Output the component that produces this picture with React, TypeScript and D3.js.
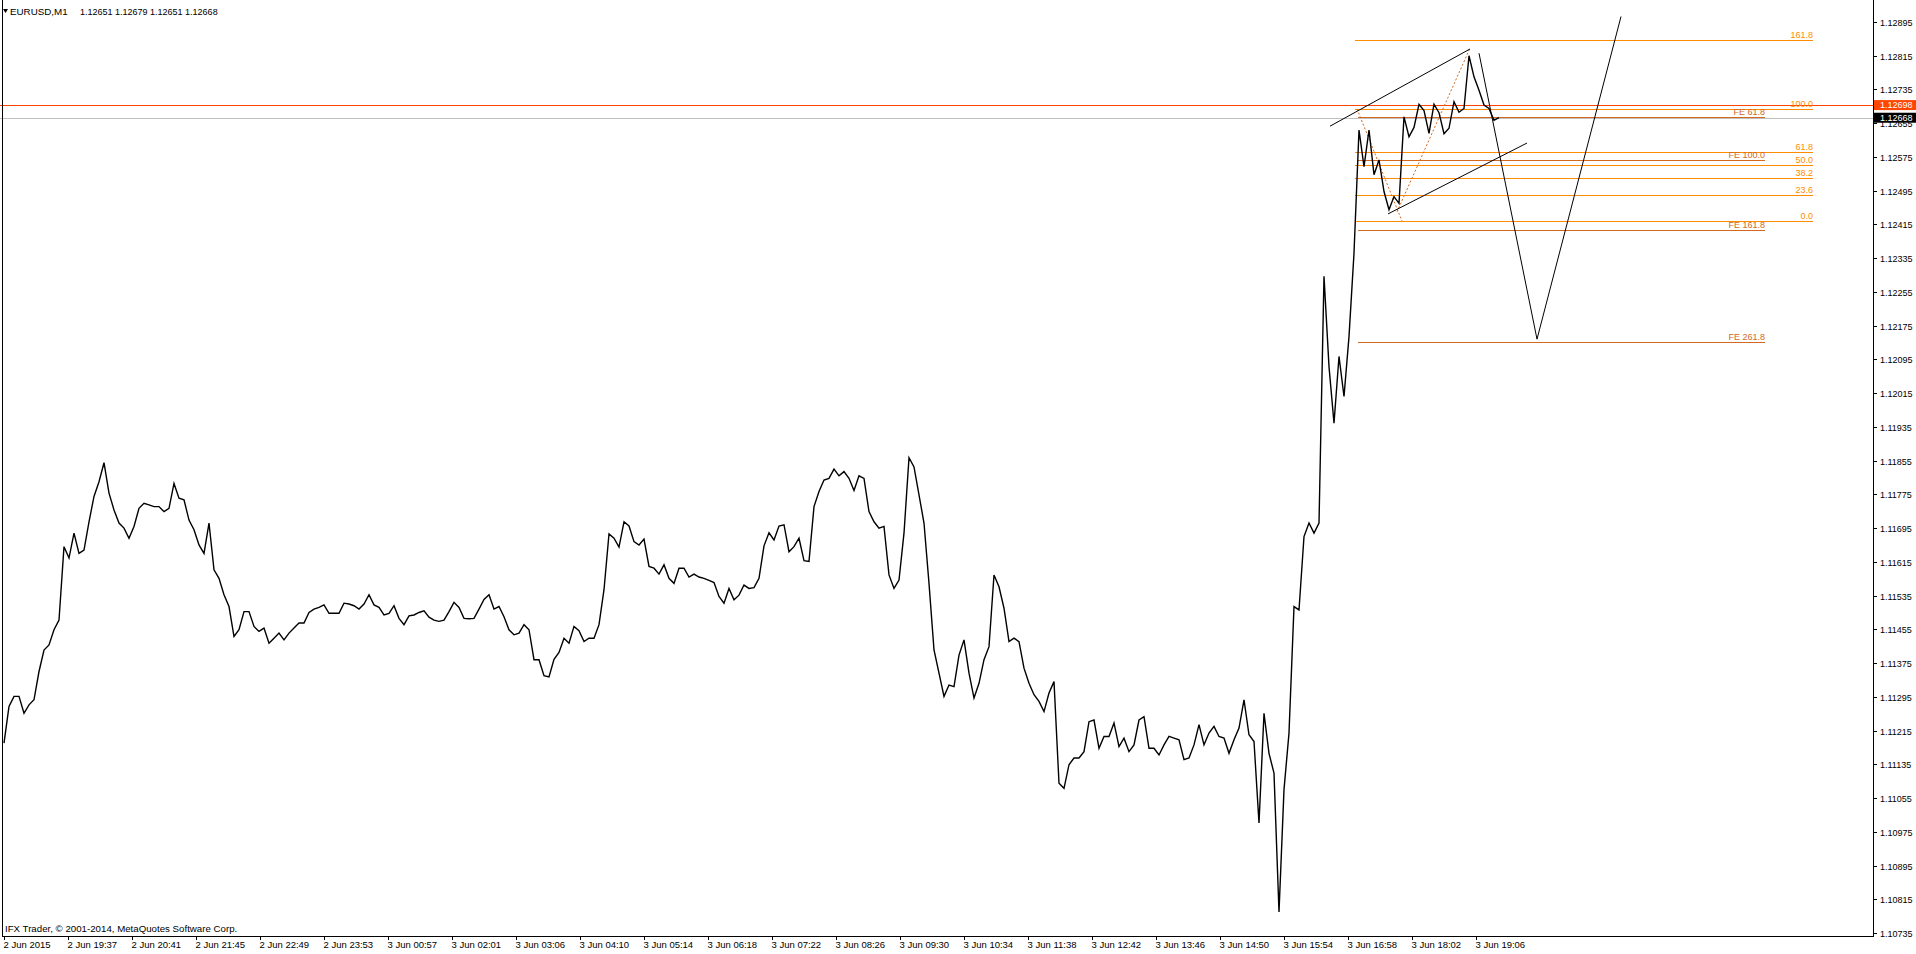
import React, { useRef, useEffect } from "react";
import * as d3 from "d3";

// EURUSD M1, closes sampled every 5 bars starting at the first bar on screen
const closes = [
  1.11185, 1.11272, 1.11296, 1.11296, 1.11256, 1.11276, 1.11288, 1.11355, 1.11406, 1.11418,
  1.11454, 1.11477, 1.11651, 1.11624, 1.11683, 1.11635, 1.11643, 1.1171, 1.1177, 1.11805,
  1.1185, 1.11778, 1.11738, 1.11707, 1.11695, 1.11671, 1.11699, 1.11742, 1.11754, 1.1175,
  1.11746, 1.11746, 1.11734, 1.11742, 1.11801, 1.11766, 1.11762, 1.11714, 1.11691, 1.11655,
  1.11635, 1.11707, 1.11596, 1.11576, 1.11537, 1.11509, 1.11438, 1.11454, 1.11497, 1.11497,
  1.11462, 1.1145, 1.11458, 1.11422, 1.11434, 1.11446, 1.1143, 1.11446, 1.11458, 1.1147,
  1.1147, 1.11495, 1.11503, 1.11507, 1.11513, 1.11493, 1.11493, 1.11493, 1.11517, 1.11515,
  1.11511, 1.11503, 1.11515, 1.11537, 1.11513, 1.11507, 1.11489, 1.11493, 1.11511, 1.11481,
  1.11466, 1.11487, 1.11489, 1.11495, 1.11499, 1.11484, 1.11477, 1.11474, 1.11477, 1.11497,
  1.11519, 1.11507, 1.11481, 1.1148, 1.11481, 1.11503, 1.11526, 1.11537, 1.11503, 1.11509,
  1.11485, 1.11454, 1.11442, 1.11446, 1.11466, 1.11454, 1.11383, 1.11383, 1.11345, 1.11342,
  1.11384, 1.114, 1.11434, 1.11422, 1.11462, 1.11452, 1.11426, 1.11434, 1.11434, 1.11466,
  1.11549, 1.11681, 1.11671, 1.1165, 1.1171, 1.117, 1.11663, 1.11655, 1.11669, 1.11604,
  1.116, 1.11586, 1.11608, 1.11576, 1.11564, 1.116, 1.116, 1.11579, 1.11586, 1.11579,
  1.11576, 1.11571, 1.11566, 1.11533, 1.11517, 1.11552, 1.11525, 1.11536, 1.1156, 1.11552,
  1.11554, 1.11576, 1.11653, 1.11684, 1.11667, 1.117, 1.11703, 1.11639, 1.11651, 1.11671,
  1.11618, 1.11616, 1.11746, 1.11782, 1.11809, 1.11813, 1.11835, 1.11819, 1.11829, 1.11813,
  1.11784, 1.11819, 1.11813, 1.11734, 1.1171, 1.11695, 1.11699, 1.11584, 1.11552, 1.11572,
  1.11683, 1.11862, 1.1184, 1.11774, 1.11707, 1.11564, 1.11406, 1.11351, 1.11296, 1.11323,
  1.11319, 1.11394, 1.1143, 1.11351, 1.11292, 1.11327, 1.11383, 1.11414, 1.11584, 1.11556,
  1.11505, 1.11426, 1.11434, 1.11426, 1.11363, 1.11327, 1.113, 1.11284, 1.1126, 1.11304,
  1.11331, 1.1109, 1.11078, 1.11134, 1.1115, 1.1115, 1.11165, 1.11236, 1.1124, 1.11173,
  1.11201, 1.11201, 1.11233, 1.11177, 1.11197, 1.11165, 1.11181, 1.1124, 1.11248, 1.11173,
  1.11173, 1.11157, 1.11181, 1.11201, 1.11197, 1.11193, 1.11146, 1.1115, 1.11181, 1.11229,
  1.11181, 1.11209, 1.11225, 1.11201, 1.11197, 1.11161, 1.11193, 1.11221, 1.11288, 1.11205,
  1.11189, 1.10996, 1.11256, 1.11161, 1.11114, 1.10785, 1.11075, 1.11209, 1.11509, 1.11501,
  1.11675, 1.11707, 1.11683, 1.11707, 1.12292, 1.12078, 1.11944, 1.12102, 1.12007, 1.12149,
  1.12347, 1.12639, 1.12552, 1.12639, 1.12533, 1.12568, 1.12493, 1.1245, 1.12481, 1.12465,
  1.1267, 1.12623, 1.12645, 1.127, 1.12685, 1.12631, 1.127, 1.1268, 1.1263, 1.12643,
  1.12706, 1.12681, 1.1269, 1.12815, 1.12765, 1.12733, 1.12698, 1.1269, 1.12662, 1.12668,
];
const sampleStep = 5;

const timeLabels = [
  "2 Jun 2015", "2 Jun 19:37", "2 Jun 20:41", "2 Jun 21:45", "2 Jun 22:49", "2 Jun 23:53",
  "3 Jun 00:57", "3 Jun 02:01", "3 Jun 03:06", "3 Jun 04:10", "3 Jun 05:14", "3 Jun 06:18",
  "3 Jun 07:22", "3 Jun 08:26", "3 Jun 09:30", "3 Jun 10:34", "3 Jun 11:38", "3 Jun 12:42",
  "3 Jun 13:46", "3 Jun 14:50", "3 Jun 15:54", "3 Jun 16:58", "3 Jun 18:02", "3 Jun 19:06",
];
const barsPerLabel = 64;

const priceTicks = [
  "1.12895", "1.12815", "1.12735", "1.12655", "1.12575", "1.12495", "1.12415", "1.12335",
  "1.12255", "1.12175", "1.12095", "1.12015", "1.11935", "1.11855", "1.11775", "1.11695",
  "1.11615", "1.11535", "1.11455", "1.11375", "1.11295", "1.11215", "1.11135", "1.11055",
  "1.10975", "1.10895", "1.10815", "1.10735",
];

const symbolName = "EURUSD,M1";
const ohlc = ["1.12651", "1.12679", "1.12651", "1.12668"];
const copyright = "IFX Trader, \u00a9 2001-2014, MetaQuotes Software Corp.";

const bidPrice = 1.12668;
const levelPrice = 1.12698;

// fibonacci retracement (bar index, price)
const fibLevels = [161.8, 100.0, 61.8, 50.0, 38.2, 23.6, 0.0];
const fibHigh = 1.12689;
const fibLow = 1.12423;
const fibBars = [1351, 1809];
const fibDiagonal: [number, number][] = [[1353, 1.12689], [1398, 1.12423]];

// fibonacci expansion
const feLevels = [61.8, 100.0, 161.8, 261.8];
const feA = 1.12689;
const feB = 1.12423;
const feC = 1.12833;
const feBars = [1354, 1761];
const feDiagonal: [number, number][] = [[1393, 1.12445], [1466, 1.12833]];

// trend lines
const upperChannel: [number, number][] = [[1326, 1.12648], [1466, 1.12831]];
const lowerChannel: [number, number][] = [[1384, 1.1244], [1523, 1.12608]];
const projection: [number, number][] = [[1475, 1.12821], [1533, 1.12143], [1617, 1.12908]];

const W = 1916;
const H = 954;
const axisX = 1873;
const axisY = 936;
const font = "'Liberation Sans', Arial, sans-serif";

const App: React.FC = () => {
  const svgRef = useRef<SVGSVGElement | null>(null);

  useEffect(() => {
    if (!svgRef.current) return;
    const svg = d3.select(svgRef.current);
    svg.selectAll("*").remove();

    const x = d3.scaleLinear().domain([0, 1869]).range([4, axisX]);
    const y = d3.scaleLinear().domain([1.10735, 1.12895]).range([933, 22]);

    svg.append("rect").attr("width", W).attr("height", H).attr("fill", "#fff");

    // bid + level lines behind everything
    svg.append("line")
      .attr("x1", 0).attr("x2", axisX)
      .attr("y1", Math.round(y(bidPrice)) + 0.5).attr("y2", Math.round(y(bidPrice)) + 0.5)
      .attr("stroke", "#c0c0c0");
    svg.append("line")
      .attr("x1", 0).attr("x2", axisX)
      .attr("y1", Math.round(y(levelPrice)) + 0.5).attr("y2", Math.round(y(levelPrice)) + 0.5)
      .attr("stroke", "#ff4500");

    // fib retracement
    const fibG = svg.append("g");
    fibLevels.forEach((lv) => {
      const py = Math.round(y(fibLow + (fibHigh - fibLow) * lv / 100)) + 0.5;
      fibG.append("line")
        .attr("x1", x(fibBars[0])).attr("x2", x(fibBars[1]))
        .attr("y1", py).attr("y2", py)
        .attr("stroke", "#ff8c00");
      fibG.append("text")
        .attr("x", x(fibBars[1])).attr("y", py - 3)
        .attr("text-anchor", "end")
        .attr("font-family", font).attr("font-size", 9)
        .attr("fill", "#ff8c00")
        .text(lv.toFixed(1));
    });

    // fib expansion
    const feG = svg.append("g");
    feLevels.forEach((lv) => {
      const py = Math.round(y(feC - (feA - feB) * lv / 100)) + 0.5;
      feG.append("line")
        .attr("x1", x(feBars[0])).attr("x2", x(feBars[1]))
        .attr("y1", py).attr("y2", py)
        .attr("stroke", "#d2691e");
      feG.append("text")
        .attr("x", x(feBars[1])).attr("y", py - 3)
        .attr("text-anchor", "end")
        .attr("font-family", font).attr("font-size", 9)
        .attr("fill", "#d2691e")
        .text(`FE ${lv.toFixed(1)}`);
    });

    const seg = d3.line<[number, number]>().x((d) => x(d[0])).y((d) => y(d[1]));
    [fibDiagonal, feDiagonal].forEach((d) => {
      svg.append("path").attr("d", seg(d)!)
        .attr("fill", "none").attr("stroke", "#d2691e")
        .attr("stroke-dasharray", "2,2");
    });

    // price
    const priceLine = d3.line<number>()
      .x((_, i) => x(i * sampleStep))
      .y((d) => y(d));
    svg.append("path")
      .datum(closes)
      .attr("d", priceLine)
      .attr("fill", "none")
      .attr("stroke", "#000")
      .attr("stroke-width", 1.4)
      .attr("stroke-linejoin", "miter");

    // trend lines
    [upperChannel, lowerChannel, projection].forEach((d) => {
      svg.append("path").attr("d", seg(d)!)
        .attr("fill", "none").attr("stroke", "#000").attr("stroke-width", 1);
    });

    // frame
    svg.append("line").attr("x1", 2.5).attr("x2", 2.5).attr("y1", 0).attr("y2", axisY).attr("stroke", "#000");
    svg.append("line").attr("x1", axisX + 0.5).attr("x2", axisX + 0.5).attr("y1", 0).attr("y2", axisY + 0.5).attr("stroke", "#000");
    svg.append("line").attr("x1", 2).attr("x2", axisX + 1).attr("y1", axisY + 0.5).attr("y2", axisY + 0.5).attr("stroke", "#000");

    // price axis
    const pa = svg.append("g");
    priceTicks.forEach((t) => {
      const py = Math.round(y(+t)) + 0.5;
      pa.append("line").attr("x1", axisX).attr("x2", axisX + 4).attr("y1", py).attr("y2", py).attr("stroke", "#000");
      pa.append("text")
        .attr("x", 1880).attr("y", py).attr("dy", "0.35em")
        .attr("font-family", font).attr("font-size", 9)
        .attr("fill", "#000")
        .text(t);
    });

    const tag = (price: number, bg: string) => {
      const py = y(price);
      pa.append("rect")
        .attr("x", axisX + 1).attr("y", py - 5).attr("width", W - axisX).attr("height", 10)
        .attr("fill", bg);
      pa.append("text")
        .attr("x", 1880).attr("y", py).attr("dy", "0.35em")
        .attr("font-family", font).attr("font-size", 9)
        .attr("fill", "#fff")
        .text(price.toFixed(5));
    };
    tag(levelPrice, "#ff4500");
    tag(bidPrice, "#000");

    // time axis
    const ta = svg.append("g");
    timeLabels.forEach((t, i) => {
      const tx = Math.round(x(i * barsPerLabel)) + 0.5;
      ta.append("line").attr("x1", tx).attr("x2", tx).attr("y1", axisY).attr("y2", axisY + 4).attr("stroke", "#000");
      ta.append("text")
        .attr("x", tx - 1).attr("y", 947.5)
        .attr("font-family", font).attr("font-size", 9.5)
        .attr("fill", "#000")
        .text(t);
    });

    // header and copyright
    svg.append("path").attr("d", "M3,9 L8,9 L5.5,13 Z").attr("fill", "#000");
    svg.append("text").attr("x", 10).attr("y", 14.5)
      .attr("font-family", font).attr("font-size", 9.8).attr("fill", "#000")
      .text(symbolName);
    svg.append("text").attr("x", 80).attr("y", 14.5)
      .attr("font-family", font).attr("font-size", 9).attr("fill", "#000")
      .text(ohlc.join(" "));
    svg.append("text").attr("x", 5).attr("y", 932)
      .attr("font-family", font).attr("font-size", 9.7).attr("fill", "#000")
      .text(copyright);
  }, []);

  return (
    <>
      <style>{"body{margin:0;overflow:hidden}"}</style>
      <svg ref={svgRef} width={W} height={H} style={{ display: "block" }}></svg>
    </>
  );
};

export default App;
